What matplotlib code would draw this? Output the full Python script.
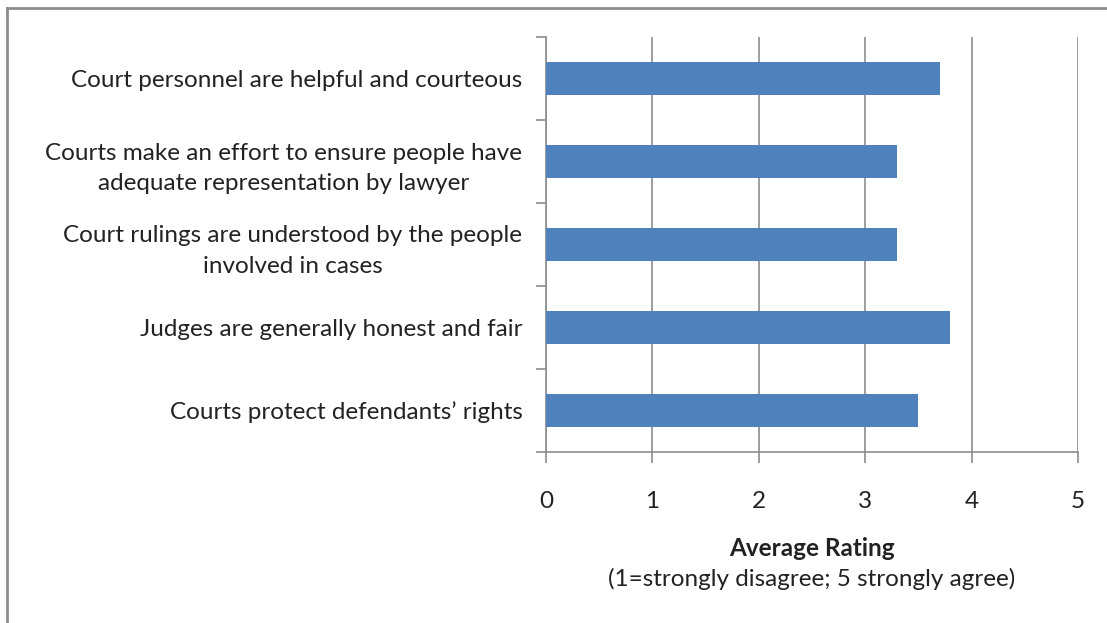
import matplotlib.pyplot as plt
from matplotlib.lines import Line2D
from matplotlib.ticker import FixedLocator

# survey statements, top to bottom
statements = [
    'Court personnel are helpful and courteous',
    'Courts make an effort to ensure people have\nadequate representation by lawyer',
    'Court rulings are understood by the people\ninvolved in cases',
    'Judges are generally honest and fair',
    'Courts protect defendants\u2019 rights',
]
ratings = [3.7, 3.3, 3.3, 3.8, 3.5]
x_ticks = [0, 1, 2, 3, 4, 5]

plt.rcParams['font.family'] = ['Lato', 'DejaVu Sans']
fs = 17.5

fig = plt.figure(figsize=(11.07, 6.23), dpi=100)
ax = fig.add_axes([546/1107, 1 - 452/623, 532/1107, 415/623])

pos = list(range(len(statements)))
ax.barh(pos, ratings, height=0.4, color='#4F81BD', zorder=3)
ax.set_ylim(len(statements) - 0.5, -0.5)
ax.set_xlim(0, 5)

grey = '#8C8C8C'
ax.set_xticks(x_ticks)
ax.set_xticklabels([str(t) for t in x_ticks], fontsize=fs, color='#222222')
ax.grid(axis='x', color=grey, linewidth=1.2, zorder=0)
ax.tick_params(axis='x', direction='out', length=8, width=1.2, color=grey, pad=20)

# category labels at bar centres, tick marks at the boundaries
ax.set_yticks(pos)
ax.set_yticklabels(statements, fontsize=fs, multialignment='center',
                   linespacing=1.55, color='#222222')
ax.yaxis.set_minor_locator(FixedLocator([p - 0.5 for p in pos] + [len(pos) - 0.5]))
ax.tick_params(axis='y', which='major', length=0, pad=17)
ax.tick_params(axis='y', which='minor', direction='out', length=7, width=1.2, color=grey)

for s in ['top', 'right']:
    ax.spines[s].set_visible(False)
for s in ['left', 'bottom']:
    ax.spines[s].set_color(grey)
    ax.spines[s].set_linewidth(1.2)

ax.set_xlabel('Average Rating', fontsize=fs, fontweight='bold', labelpad=18, color='#222222')
fig.text(812/1107, 1 - 579/623, '(1=strongly disagree; 5 strongly agree)',
         fontsize=fs, ha='center', va='center', color='#222222')

# outer frame of the chart area
fig.add_artist(Line2D([7/1107, 7/1107], [0, 1 - 8/623], color='#8C8C8C', linewidth=2))
fig.add_artist(Line2D([7/1107, 1], [1 - 8/623, 1 - 8/623], color='#8C8C8C', linewidth=2))

fig.savefig('out.png', dpi=100)
